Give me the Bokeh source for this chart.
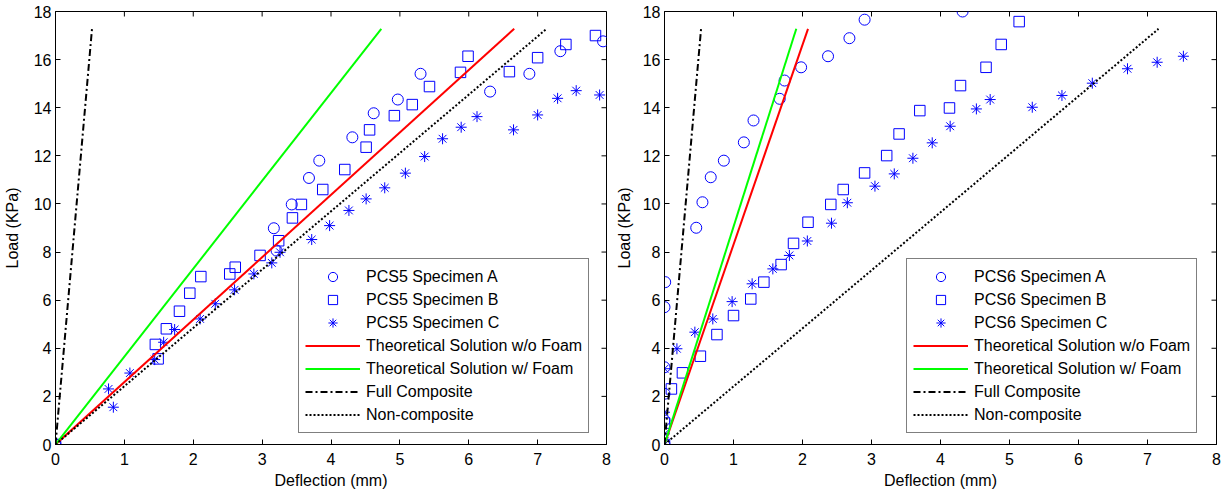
import math
from bokeh.plotting import figure
from bokeh.models import Range1d, Legend, LegendItem, FixedTicker
from bokeh.layouts import row
from bokeh.embed import file_html
from bokeh.resources import INLINE

FONT = "Liberation Sans"

x_ticks = [0, 1, 2, 3, 4, 5, 6, 7, 8]
y_ticks = [0, 2, 4, 6, 8, 10, 12, 14, 16, 18]

# ---------- PCS5 (left panel) ----------
pcs5_a_x = [0, 3.17, 3.21, 3.43, 3.68, 3.83, 4.31, 4.62, 4.97, 5.30, 6.31, 6.88, 7.33, 7.95]
pcs5_a_y = [0, 8.99, 8.06, 9.98, 11.08, 11.80, 12.77, 13.77, 14.34, 15.41, 14.67, 15.41, 16.35, 16.76]

pcs5_b_x = [0, 1.45, 1.49, 1.61, 1.80, 1.95, 2.11, 2.53, 2.61, 2.97, 3.24, 3.44, 3.57, 3.88,
            4.20, 4.51, 4.56, 4.92, 5.18, 5.43, 5.88, 5.99, 6.59, 7.00, 7.41, 7.84]
pcs5_b_y = [0, 4.16, 3.56, 4.81, 5.54, 6.29, 6.98, 7.09, 7.37, 7.86, 8.47, 9.42, 9.98, 10.60,
            11.43, 12.36, 13.08, 13.67, 14.13, 14.88, 15.47, 16.14, 15.50, 16.08, 16.63, 17.00]

pcs5_c_x = [0, 0.77, 0.84, 1.08, 1.44, 1.57, 1.73, 2.10, 2.32, 2.60, 2.88, 3.14, 3.26, 3.72,
            3.98, 4.26, 4.51, 4.78, 5.08, 5.36, 5.62, 5.89, 6.12, 6.65, 7.00, 7.29, 7.56, 7.90]
pcs5_c_y = [0, 2.31, 1.55, 2.97, 3.53, 4.25, 4.78, 5.22, 5.85, 6.43, 7.09, 7.55, 7.99, 8.52,
            9.10, 9.73, 10.21, 10.67, 11.28, 11.97, 12.71, 13.19, 13.63, 13.08, 13.70, 14.39, 14.71, 14.53]

pcs5_nofoam_x = [0, 6.66]
pcs5_nofoam_y = [0, 17.28]
pcs5_foam_x = [0, 4.73]
pcs5_foam_y = [0, 17.28]
pcs5_full_x = [0, 0.53]
pcs5_full_y = [0, 17.28]
pcs5_non_x = [0, 7.13]
pcs5_non_y = [0, 17.28]

# ---------- PCS6 (right panel) ----------
pcs6_a_x = [0, 0, 0, 0, 0, 0.01, 0.46, 0.55, 0.67, 0.86, 1.15, 1.29, 1.67, 1.74, 1.98, 2.37, 2.68, 2.90, 4.32]
pcs6_a_y = [0, 1.00, 2.11, 3.21, 5.71, 6.75, 9.01, 10.07, 11.11, 11.80, 12.56, 13.47, 14.37, 15.13, 15.68,
            16.14, 16.89, 17.66, 18.00]

pcs6_b_x = [0, 0, 0.10, 0.26, 0.52, 0.76, 1.00, 1.25, 1.44, 1.69, 1.87, 2.08, 2.41, 2.59, 2.90, 3.22,
            3.40, 3.70, 4.13, 4.29, 4.66, 4.88, 5.14]
pcs6_b_y = [0, 0.89, 2.31, 2.98, 3.67, 4.57, 5.36, 6.05, 6.75, 7.48, 8.36, 9.24, 9.98, 10.60, 11.29, 12.01,
            12.91, 13.88, 13.99, 14.92, 15.68, 16.63, 17.58]

pcs6_c_x = [0, 0, 0, 0, 0.18, 0.44, 0.70, 0.98, 1.27, 1.57, 1.81, 2.07, 2.42, 2.65, 3.05, 3.33, 3.60,
            3.88, 4.14, 4.52, 4.72, 5.33, 5.76, 6.20, 6.71, 7.14, 7.52]
pcs6_c_y = [0, 0.44, 1.34, 3.15, 3.98, 4.67, 5.22, 5.94, 6.68, 7.30, 7.86, 8.46, 9.20, 10.05, 10.74, 11.25,
            11.90, 12.54, 13.23, 13.95, 14.34, 14.02, 14.51, 15.02, 15.62, 15.89, 16.14]

pcs6_nofoam_x = [0, 2.08]
pcs6_nofoam_y = [0, 17.28]
pcs6_foam_x = [0, 1.91]
pcs6_foam_y = [0, 17.28]
pcs6_full_x = [0, 0.53]
pcs6_full_y = [0, 17.28]
pcs6_non_x = [0, 7.16]
pcs6_non_y = [0, 17.28]

labels_common = ["Theoretical Solution w/o Foam", "Theoretical Solution w/ Foam",
                 "Full Composite", "Non-composite"]

X_MAX = 8
Y_MAX = 18


def make_panel(name, ax_, ay_, bx_, by_, cx_, cy_, lines, width, bl, br, legend_x, ylab_standoff):
    p = figure(width=width, height=492, output_backend="svg", toolbar_location=None,
               x_range=Range1d(0, X_MAX), y_range=Range1d(0, Y_MAX),
               min_border_left=bl, min_border_right=br, min_border_top=11, min_border_bottom=48,
               x_axis_label="Deflection (mm)", y_axis_label="Load (KPa)")
    p.grid.visible = False
    p.outline_line_color = "black"
    p.outline_line_width = 1
    p.background_fill_color = "white"
    p.border_fill_color = "white"

    for ax, ticks in ((p.xaxis[0], x_ticks), (p.yaxis[0], y_ticks)):
        ax.ticker = FixedTicker(ticks=ticks)
        ax.major_tick_in = 5
        ax.major_tick_out = 0
        ax.minor_tick_in = 0
        ax.minor_tick_out = 0
        ax.axis_line_color = "black"
        ax.major_tick_line_color = "black"
        ax.major_label_text_font = FONT
        ax.major_label_text_font_size = "16px"
        ax.major_label_text_color = "black"
        ax.axis_label_text_font = FONT
        ax.axis_label_text_font_size = "16px"
        ax.axis_label_text_font_style = "normal"
        ax.axis_label_text_color = "black"
    p.xaxis[0].major_label_standoff = 8
    p.xaxis[0].axis_label_standoff = 4
    p.yaxis[0].major_label_standoff = 4
    p.yaxis[0].axis_label_standoff = ylab_standoff

    # inward ticks on the top and right edges of the box (MATLAB "box on")
    p.ray(x=x_ticks, y=[Y_MAX] * len(x_ticks), length=5, length_units="screen",
          angle=-math.pi / 2, line_color="black", line_width=1)
    p.ray(x=[X_MAX] * len(y_ticks), y=y_ticks, length=5, length_units="screen",
          angle=math.pi, line_color="black", line_width=1)

    blue = "#0000ff"
    ra = p.scatter(ax_, ay_, marker="circle", size=11, fill_color=None, line_color=blue, line_width=1)
    rb = p.scatter(bx_, by_, marker="square", size=10.5, fill_color=None, line_color=blue, line_width=1)
    rc = p.scatter(cx_, cy_, marker="asterisk", size=11, line_color=blue, line_width=1)

    (nfx, nfy), (fx, fy), (cx, cy), (ncx, ncy) = lines
    r1 = p.line(nfx, nfy, line_color="#ff0000", line_width=2)
    r2 = p.line(fx, fy, line_color="#00ff00", line_width=2)
    r3 = p.line(cx, cy, line_color="black", line_width=2, line_dash="7 3 2 3")
    r4 = p.line(ncx, ncy, line_color="black", line_width=2, line_dash="2 2")

    items = [
        LegendItem(label=f"{name} Specimen A", renderers=[ra]),
        LegendItem(label=f"{name} Specimen B", renderers=[rb]),
        LegendItem(label=f"{name} Specimen C", renderers=[rc]),
        LegendItem(label=labels_common[0], renderers=[r1]),
        LegendItem(label=labels_common[1], renderers=[r2]),
        LegendItem(label=labels_common[2], renderers=[r3]),
        LegendItem(label=labels_common[3], renderers=[r4]),
    ]
    leg = Legend(items=items, location=(legend_x, 11), padding=6, spacing=0, margin=0,
                 glyph_width=55, glyph_height=23, label_height=23, label_standoff=6,
                 label_text_font=FONT, label_text_font_size="16px", label_text_color="black",
                 border_line_color="black", border_line_width=1,
                 background_fill_color="white", background_fill_alpha=1.0)
    p.add_layout(leg)
    return p


p1 = make_panel("PCS5", pcs5_a_x, pcs5_a_y, pcs5_b_x, pcs5_b_y, pcs5_c_x, pcs5_c_y,
                [(pcs5_nofoam_x, pcs5_nofoam_y), (pcs5_foam_x, pcs5_foam_y),
                 (pcs5_full_x, pcs5_full_y), (pcs5_non_x, pcs5_non_y)],
                width=612, bl=55, br=6, legend_x=243, ylab_standoff=10)
p2 = make_panel("PCS6", pcs6_a_x, pcs6_a_y, pcs6_b_x, pcs6_b_y, pcs6_c_x, pcs6_c_y,
                [(pcs6_nofoam_x, pcs6_nofoam_y), (pcs6_foam_x, pcs6_foam_y),
                 (pcs6_full_x, pcs6_full_y), (pcs6_non_x, pcs6_non_y)],
                width=613, bl=52, br=9, legend_x=242, ylab_standoff=7)

layout = row(p1, p2)
open("out.html", "w").write(file_html(layout, INLINE))
